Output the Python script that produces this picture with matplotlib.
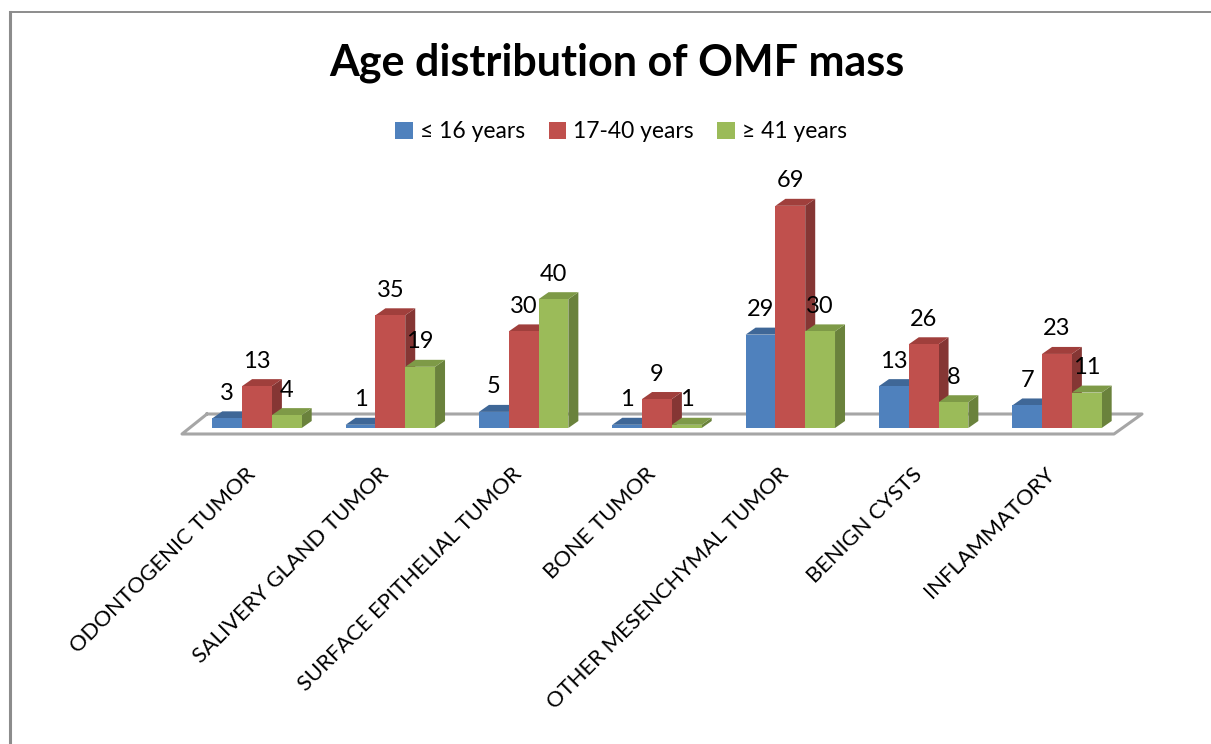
import matplotlib
matplotlib.use('Agg')
import matplotlib.pyplot as plt
from matplotlib.patches import Polygon, Patch
from matplotlib.transforms import ScaledTranslation

plt.rcParams['font.family'] = ['Lato', 'DejaVu Sans']

categories = ['ODONTOGENIC TUMOR', 'SALIVERY GLAND TUMOR', 'SURFACE EPITHELIAL TUMOR',
              'BONE TUMOR', 'OTHER MESENCHYMAL TUMOR', 'BENIGN CYSTS', 'INFLAMMATORY']
under_16 = [3, 1, 5, 1, 29, 13, 7]
from_17_to_40 = [13, 35, 30, 9, 69, 26, 23]
over_41 = [4, 19, 40, 1, 30, 8, 11]
series_names = ['≤ 16 years', '17-40 years', '≥ 41 years']
front_colors = ['#4F81BD', '#C0504D', '#9BBB59']
top_colors = ['#3F6797', '#A03F3C', '#7E9A47']
side_colors = ['#365A86', '#853634', '#6A823C']

W, H = 1211, 744
fig = plt.figure(figsize=(W / 100, H / 100), dpi=100)

# overlay in pixel coords for frame and floor
deco = fig.add_axes([0, 0, 1, 1])
deco.set_xlim(0, W)
deco.set_ylim(H, 0)
deco.axis('off')
deco.plot([10, 10], [12, H], color='#8c8c8c', lw=2.2)
deco.plot([10, W], [11.5, 11.5], color='#8c8c8c', lw=1.4)
deco.plot([207, 1142, 1114, 182, 207], [414, 414, 434, 434, 414], color='#a6a6a6', lw=2.2)
deco.text(617, 63, 'Age distribution of OMF mass', fontsize=31, fontweight='bold',
          ha='center', va='center', color='black')

# plot area: y=0 sits on pixel 428 and one unit is 3.22 px
STEP = 133.33
UNIT = 3.22
left_px, right_px, top_px, floor_px = 182, 1142, 150, 428
ax = fig.add_axes([left_px / W, 1 - floor_px / H, (right_px - left_px) / W, (floor_px - top_px) / H])
ax.patch.set_alpha(0)
ax.set_xlim((left_px - 257) / STEP, (right_px - 257) / STEP)
ax.set_ylim(0, (floor_px - top_px) / UNIT)
for s in ax.spines.values():
    s.set_visible(False)
ax.set_yticks([])
ax.set_xticks(range(len(categories)))
ax.set_xticklabels(categories, rotation=45, ha='right', va='top', rotation_mode='anchor', fontsize=15.8)
ax.tick_params(axis='x', length=0, pad=26)
shift = ScaledTranslation(-12 / 100, 0, fig.dpi_scale_trans)
for lab in ax.get_xticklabels():
    lab.set_transform(lab.get_transform() + shift)

bar_w = 29.8 / STEP
dx = 10 / STEP
dy = 7 / UNIT
series = [under_16, from_17_to_40, over_41]
for k, vals in enumerate(series):
    offset = (k - 1) * bar_w
    for i, v in enumerate(vals):
        x0 = i + offset - bar_w / 2
        x1 = x0 + bar_w
        z = 2 + k + i * 3
        ax.add_patch(Polygon([(x1, 0), (x1 + dx, dy), (x1 + dx, v + dy), (x1, v)],
                             facecolor=side_colors[k], edgecolor='none', zorder=z, clip_on=False))
        ax.add_patch(Polygon([(x0, v), (x0 + dx, v + dy), (x1 + dx, v + dy), (x1, v)],
                             facecolor=top_colors[k], edgecolor='none', zorder=z, clip_on=False))
        ax.bar(i + offset, v, width=bar_w, color=front_colors[k], zorder=z + 0.5, clip_on=False)
        ax.annotate(str(v), (i + offset, v), xytext=(0, 18), textcoords='offset points',
                    ha='center', va='center', fontsize=17, color='black', zorder=100,
                    annotation_clip=False)

handles = [Patch(facecolor=c, edgecolor='none') for c in front_colors]
fig.legend(handles, series_names, loc='center', bbox_to_anchor=(621 / W, 1 - 132 / H), ncol=3,
           frameon=False, fontsize=16.5, handlelength=0.75, handleheight=0.75, handletextpad=0.3,
           columnspacing=1.05)

fig.savefig('out.png', dpi=100)
